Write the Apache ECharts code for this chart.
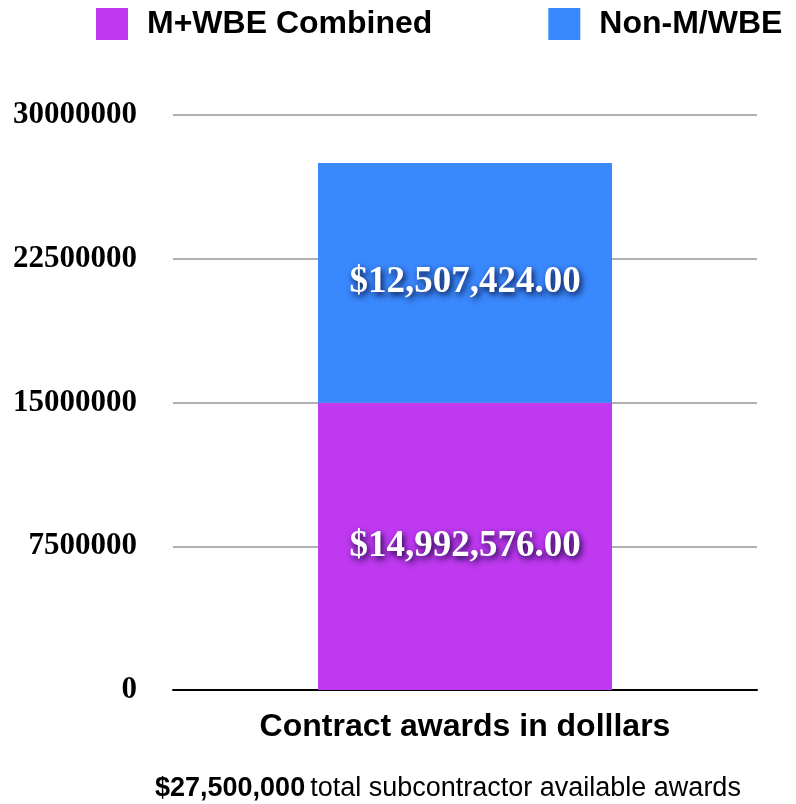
<!DOCTYPE html>
<html>
<head>
<meta charset="utf-8">
<script src="https://cdn.jsdelivr.net/npm/echarts@6/dist/echarts.min.js"></script>
<style>
html,body{margin:0;padding:0;background:#fff;}
#chart{width:796px;height:804px;}
</style>
</head>
<body>
<div id="chart"></div>
<script>
// data
var categories = ['Contract awards'];
var seriesNames = ['M+WBE Combined', 'Non-M/WBE'];
var mwbeValues = [14992576];
var nonMwbeValues = [12507424];
var seriesColors = ['#bf39f1', '#3a88fd'];
var yTicks = [0, 7500000, 15000000, 22500000, 30000000];

function money(v){
    var s = v.toFixed(2).split('.');
    return '$' + s[0].replace(/\B(?=(\d{3})+(?!\d))/g, ',') + '.' + s[1];
}

var labelStyle = {
    show: true,
    position: 'inside',
    formatter: function(p){ return money(p.value); },
    color: '#fff',
    fontFamily: 'Liberation Serif',
    fontWeight: 'bold',
    fontSize: 37,
    textShadowColor: 'rgba(0,0,40,0.9)',
    textShadowBlur: 6,
    textShadowOffsetX: 2,
    textShadowOffsetY: 3
};

var myChart = echarts.init(document.getElementById('chart'));
var option = {
    animation: false,
    legend: {
        top: 8,
        left: 96,
        width: 700,
        padding: 0,
        itemWidth: 32,
        itemHeight: 32,
        itemGap: 116,
        icon: 'rect',
        textStyle: {fontFamily: 'Liberation Sans', fontWeight: 'bold', fontSize: 32, color: '#000', padding: [4, 0, 0, 14]},
        data: seriesNames
    },
    title: {
        top: 770,
        left: 150,
        text: '{b|$27,500,000} {r|total subcontractor available awards}',
        textStyle: {
            rich: {
                b: {fontFamily: 'Liberation Sans', fontWeight: 'bold', fontSize: 27, color: '#000'},
                r: {fontFamily: 'Liberation Sans', fontWeight: 'normal', fontSize: 27, color: '#000'}
            }
        }
    },
    grid: {left: 173, right: 39, top: 115, bottom: 114},
    xAxis: {
        type: 'category',
        data: categories,
        name: 'Contract awards in dolllars',
        nameLocation: 'middle',
        nameGap: 21,
        nameTextStyle: {fontFamily: 'Liberation Sans', fontWeight: 'bold', fontSize: 32, color: '#000'},
        axisLine: {lineStyle: {color: '#000', width: 2}},
        axisTick: {show: false},
        axisLabel: {show: false}
    },
    yAxis: {
        type: 'value',
        min: yTicks[0],
        max: yTicks[yTicks.length - 1],
        interval: 7500000,
        axisLine: {show: false},
        axisTick: {show: false},
        axisLabel: {
            margin: 36,
            formatter: function(v){ return String(v); },
            fontFamily: 'Liberation Serif',
            fontWeight: 'bold',
            fontSize: 31,
            color: '#000'
        },
        splitLine: {lineStyle: {color: '#b0b0b0', width: 2}}
    },
    series: [
        {name: seriesNames[0], type: 'bar', stack: 'a', barWidth: 294, data: mwbeValues,
         itemStyle: {color: seriesColors[0]}, label: labelStyle},
        {name: seriesNames[1], type: 'bar', stack: 'a', barWidth: 294, data: nonMwbeValues,
         itemStyle: {color: seriesColors[1]}, label: labelStyle}
    ]
};
myChart.setOption(option);
</script>
</body>
</html>
